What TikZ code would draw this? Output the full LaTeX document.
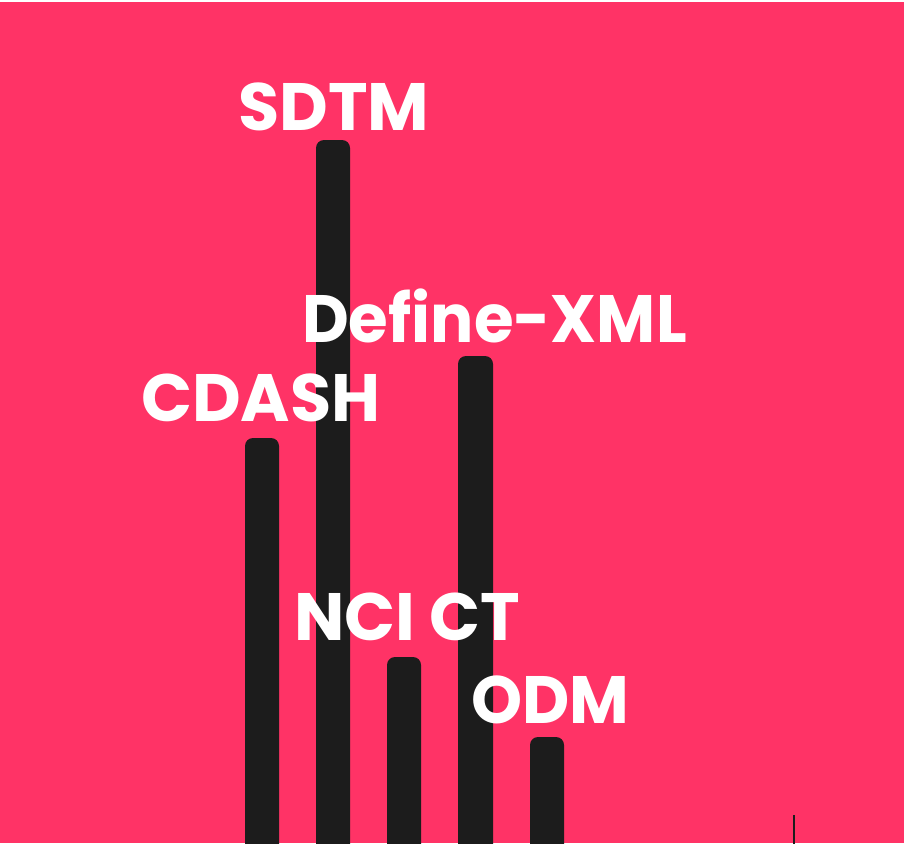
\documentclass[tikz,border=0pt]{standalone}
\usepackage{fontspec}
\setmainfont{Poppins}
\definecolor{bgpink}{RGB}{255,51,102}
\definecolor{barblack}{RGB}{28,28,28}
\begin{document}
\begin{tikzpicture}[x=1pt,y=-1pt,
  lbl/.style={text=white,font=\fontsize{67}{67}\selectfont\bfseries,inner sep=0pt,anchor=base west},
  barfill/.style={fill=barblack,rounded corners=8pt}]
\useasboundingbox (0,0) rectangle (909,843);
\fill[white] (0,0) rectangle (909,843);
\fill[bgpink] (0,2) rectangle (904,843);
\begin{scope}
\clip (0,0) rectangle (904,843);
\fill[barfill] (245,870) -- (245,438) -- (279,438) -- (279,870) -- cycle;
\fill[barfill] (316,870) -- (316,140) -- (350,140) -- (350,870) -- cycle;
\fill[barfill] (387,870) -- (387,657) -- (421,657) -- (421,870) -- cycle;
\fill[barfill] (458,870) -- (458,356) -- (493,356) -- (493,870) -- cycle;
\fill[barfill] (530,870) -- (530,737) -- (564,737) -- (564,870) -- cycle;
\draw[barblack,line width=2.5pt] (794,815) -- (794,850);
\end{scope}
\node[lbl] (sdtm) at (238,130) {SDTM};
\node[lbl] (define) at (302,342) {\scalebox{0.96}[1]{Define-XML}};
\node[lbl] (cdash) at (141,421) {CDASH};
\node[lbl] (ncict) at (294,640) {NCI CT};
\node[lbl] (odm) at (471,723) {\scalebox{0.97}[1]{ODM}};
\end{tikzpicture}
\end{document}
